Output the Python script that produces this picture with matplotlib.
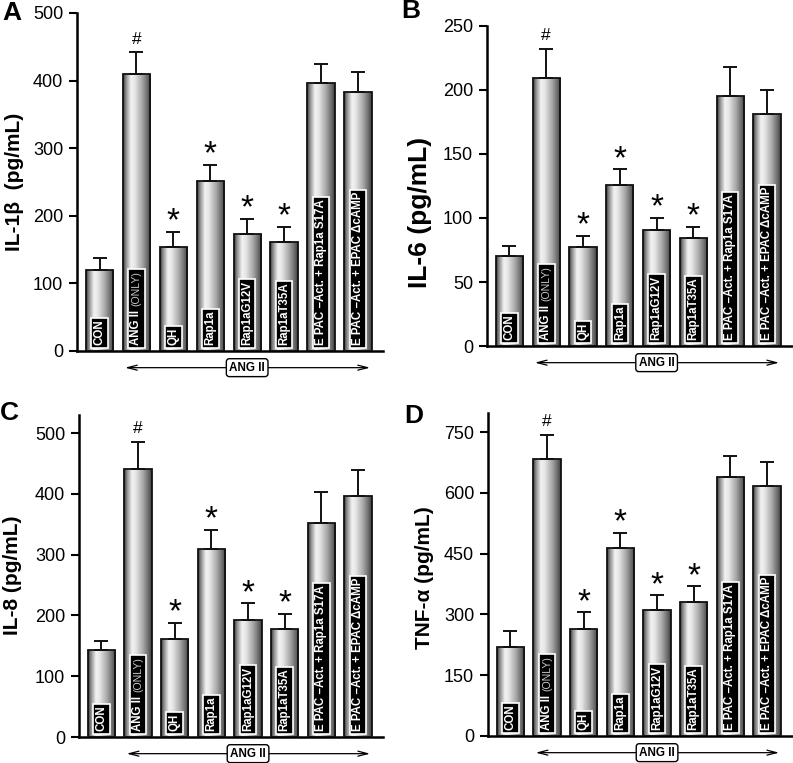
import numpy as np
import matplotlib.pyplot as plt
from matplotlib.colors import LinearSegmentedColormap
from matplotlib.patches import Rectangle

plt.rcParams['font.family'] = ['Liberation Sans', 'DejaVu Sans']

labels = ["CON", "ANG II (ONLY)", "QH", "Rap1a", "Rap1aG12V", "Rap1aT35A",
          "E PAC \u2013Act. + Rap1a S17A", "E PAC \u2013Act. + EPAC \u0394cAMP"]
marks = ["", "#", "*", "*", "*", "*", "", ""]

il1b = [120, 410, 154, 252, 173, 161, 397, 383]
il1b_err = [18, 32, 22, 23, 23, 23, 28, 30]
il6 = [70, 209, 77, 126, 91, 84, 195, 181]
il6_err = [8, 23, 9, 12, 9, 9, 23, 19]
il8 = [143, 441, 162, 309, 192, 177, 353, 397]
il8_err = [15, 45, 26, 32, 28, 26, 51, 43]
tnfa = [220, 683, 265, 463, 310, 331, 640, 618]
tnfa_err = [39, 60, 40, 39, 37, 38, 52, 59]

W, H = 793, 763
fig = plt.figure(figsize=(W / 100, H / 100), dpi=100)
renderer = fig.canvas.get_renderer()

shade = LinearSegmentedColormap.from_list("cyl", [
    (0.0, "#3a3a3a"), (0.1, "#8c8c8c"), (0.28, "#f2f2f2"), (0.42, "#e6e6e6"),
    (0.7, "#a4a4a4"), (0.88, "#6c6c6c"), (1.0, "#404040")])
grad = np.linspace(0, 1, 64).reshape(1, -1)


def px_axes(left, right, top, bottom):
    return fig.add_axes([left / W, 1 - bottom / H, (right - left) / W, (bottom - top) / H])


def bar_label(ax, i, lab):
    if "(ONLY)" not in lab:
        ax.annotate(lab, (i, 0), xytext=(0, 4), textcoords="offset points", rotation=90,
                    ha="center", va="bottom", fontsize=8.3, fontweight="bold", color="white",
                    zorder=5,
                    bbox=dict(boxstyle="square,pad=0.2", fc="black", ec="white", lw=1.2))
        return
    # two-part label: bold "ANG II" plus a lighter "(ONLY)", on one black box
    t1 = ax.annotate("ANG II", (i, 0), xytext=(0, 4), textcoords="offset points", rotation=90,
                     ha="center", va="bottom", fontsize=8.3, fontweight="bold", color="white",
                     zorder=6)
    h = t1.get_window_extent(renderer).height * 72 / fig.dpi
    t2 = ax.annotate("(ONLY)", (i, 0), xytext=(0.3, 4 + h + 3), textcoords="offset points",
                     rotation=90, ha="center", va="bottom", fontsize=7.6, color="#c8c8c8",
                     zorder=6)
    e1 = t1.get_window_extent(renderer)
    e2 = t2.get_window_extent(renderer)
    pad = 2.3
    x0, x1 = min(e1.x0, e2.x0) - pad, max(e1.x1, e2.x1) + pad
    y0, y1 = e1.y0 - pad, e2.y1 + pad
    inv = ax.transData.inverted()
    (dx0, dy0), (dx1, dy1) = inv.transform([(x0, y0), (x1, y1)])
    ax.add_patch(Rectangle((dx0, dy0), dx1 - dx0, dy1 - dy0, fc="black", ec="white",
                           lw=1.2, zorder=5))


def panel(ax, vals, errs, ymax, ticks, letter, ylabel, lab_xy, let_xy, lab_size):
    x = np.arange(len(vals))
    bars = ax.bar(x, vals, width=0.74, color="none", edgecolor="#111111", lw=1.3, zorder=3)
    for b in bars:
        im = ax.imshow(grad, cmap=shade, aspect="auto", zorder=2,
                       extent=[b.get_x(), b.get_x() + b.get_width(), 0, b.get_height()])
        im.set_clip_path(b)
    ax.errorbar(x, vals, yerr=[np.zeros(len(errs)), errs], fmt="none", ecolor="#111111",
                elinewidth=1.4, capsize=4.8, capthick=1.4, zorder=2.5)
    for i, m in enumerate(marks):
        if m == "#":
            ax.annotate(m, (i, vals[i] + errs[i]), xytext=(0, 4), textcoords="offset points",
                        ha="center", va="bottom", fontsize=12.5)
        elif m == "*":
            ax.annotate(m, (i, vals[i] + errs[i]), xytext=(0, -4), textcoords="offset points",
                        ha="center", va="bottom", fontsize=24)
    ax.set_xlim(-0.61, 7.68)
    ax.set_ylim(0, ymax)
    for i, lab in enumerate(labels):
        bar_label(ax, i, lab)
    ax.set_yticks(ticks)
    ax.tick_params(axis="y", labelsize=13, length=6, width=1.5, pad=4)
    ax.set_xticks([])
    for s in ["top", "right"]:
        ax.spines[s].set_visible(False)
    ax.spines["left"].set_linewidth(1.8)
    ax.spines["bottom"].set_linewidth(1.8)
    ax.spines["left"].set_bounds(0, ymax)
    ax.spines["bottom"].set_bounds(-0.61, 7.68)

    ax.annotate("", xy=(7.33, -12), xytext=(0.69, -12), xycoords=("data", "axes points"),
                textcoords=("data", "axes points"), annotation_clip=False,
                arrowprops=dict(arrowstyle="<->,head_length=0.7,head_width=0.18", lw=0.9,
                                color="black", shrinkA=0, shrinkB=0))
    ax.annotate("ANG II", xy=(4.0, -12), xycoords=("data", "axes points"), ha="center",
                va="center", fontsize=8.5, fontweight="bold", annotation_clip=False, zorder=6,
                bbox=dict(boxstyle="round,pad=0.25", fc="white", ec="black", lw=1.0))

    fig.text(lab_xy[0] / W, 1 - lab_xy[1] / H, ylabel, rotation=90, ha="center", va="center",
             fontsize=lab_size, fontweight="bold")
    fig.text(let_xy[0] / W, 1 - let_xy[1] / H, letter, ha="center", va="center",
             fontsize=19, fontweight="bold")


axA = px_axes(77, 383, 13, 351)
panel(axA, il1b, il1b_err, 500, [0, 100, 200, 300, 400, 500], "A", "IL-1\u03b2  (pg/mL)",
      (14, 182), (12, 13), 15)

axB = px_axes(487, 792, 26, 346)
panel(axB, il6, il6_err, 250, [0, 50, 100, 150, 200, 250], "B", "IL-6 (pg/mL)",
      (420, 212), (411, 11), 19)

axC = px_axes(79, 383, 415, 737)
panel(axC, il8, il8_err, 530, [0, 100, 200, 300, 400, 500], "C", "IL-8 (pg/mL)",
      (13, 575), (9, 413), 15)

axD = px_axes(488, 792, 413, 736)
panel(axD, tnfa, tnfa_err, 797, [0, 150, 300, 450, 600, 750], "D", "TNF-\u03b1 (pg/mL)",
      (424, 578), (414, 416), 15)

fig.savefig("out.png", dpi=100)
